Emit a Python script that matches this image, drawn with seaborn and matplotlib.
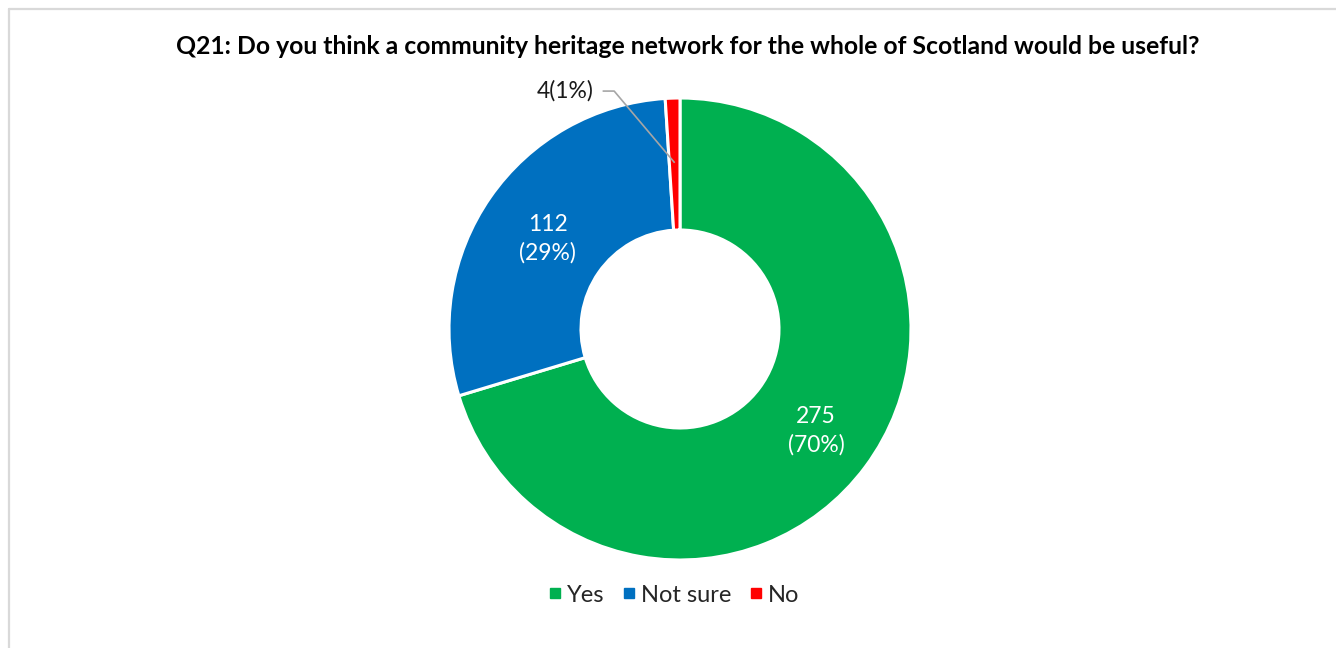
import matplotlib
matplotlib.use("Agg")
import matplotlib.pyplot as plt
from matplotlib.lines import Line2D
import seaborn as sns
import numpy as np

# Survey responses
categories = ["Yes", "Not sure", "No"]
counts = [275, 112, 4]
percent_labels = ["70%", "29%", "1%"]
colors = ["#00B050", "#0070C0", "#FF0000"]
title = "Q21: Do you think a community heritage network for the whole of Scotland would be useful?"

sns.set_theme(style="white")
plt.rcParams["font.family"] = ["Lato", "DejaVu Sans"]

W, H = 1336, 648
fig = plt.figure(figsize=(W / 100, H / 100), dpi=100)

# outer border (left and top edges)
fig.add_artist(Line2D([8.5 / W, 8.5 / W], [0, 1 - 8.5 / H], transform=fig.transFigure,
                      color="#D9D9D9", lw=1.6))
fig.add_artist(Line2D([8.5 / W, 1], [1 - 8.5 / H, 1 - 8.5 / H], transform=fig.transFigure,
                      color="#D9D9D9", lw=1.6))

# axes laid out so the donut centre sits at (680, 329) px with radius 231 px
cx, cy, R = 680, 329, 231
half = 260
ax = fig.add_axes([(cx - half) / W, (H - cy - half) / H, 2 * half / W, 2 * half / H])

ring = 1 - 99 / 231
wedges, _ = ax.pie(counts, colors=colors, startangle=90, counterclock=False,
                   radius=1, wedgeprops=dict(width=ring, edgecolor="white", linewidth=2.2))

lim = half / R
ax.set_xlim(-lim, lim)
ax.set_ylim(-lim, lim)
ax.set_aspect("equal")
ax.axis("off")

total = sum(counts)
mid_r = 1 - ring / 2
angle = 90.0
for i, (w, c, p) in enumerate(zip(wedges, counts, percent_labels)):
    span = 360.0 * c / total
    mid = np.deg2rad(angle - span / 2)
    angle -= span
    if i < 2:
        ax.text(mid_r * np.cos(mid) + 0.015, mid_r * np.sin(mid) - 0.015, f"{c}\n({p})",
                ha="center", va="center", color="white", fontsize=16.5, linespacing=1.4)
    else:
        # small slice: label outside with a leader line
        px, py = 0.72 * np.cos(mid), 0.72 * np.sin(mid)
        tx, ty = -0.285, 1.03
        ax.plot([px, tx, tx - 0.05], [py, ty, ty], color="#A6A6A6", lw=1.2,
                solid_capstyle="butt")
        ax.text(tx - 0.09, ty, f"{c}({p})", ha="right", va="center",
                color="#1a1a1a", fontsize=16.5)

fig.text(688 / W, 1 - 46 / H, title, ha="center", va="center",
         fontsize=17.8, fontweight="bold", color="#000000")

handles = [Line2D([0], [0], marker="s", linestyle="none", markersize=7.5,
                  markerfacecolor=col, markeredgecolor=col) for col in colors]
fig.legend(handles, categories, loc="center", bbox_to_anchor=(673 / W, 1 - 595 / H),
           ncol=3, frameon=False, fontsize=17, handletextpad=0.15, columnspacing=0.7,
           handlelength=0.7)

fig.savefig("out.png", dpi=100, facecolor="white")
